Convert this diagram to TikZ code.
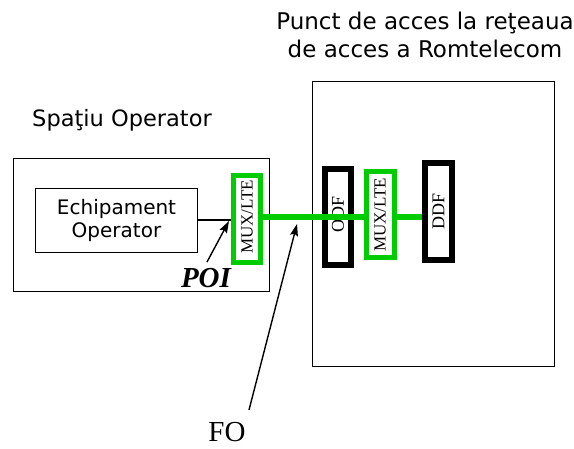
\documentclass[tikz,border=0pt]{standalone}
\usepackage{fontspec}
\setmainfont{Liberation Serif}
\newfontfamily\sansf{DejaVu Sans}
\usetikzlibrary{arrows.meta}
\definecolor{fgreen}{RGB}{0,204,0}
\begin{document}
\begin{tikzpicture}[x=1pt,y=-1pt,
  outerbox/.style={draw, line width=1.5pt, inner sep=0pt},
  greenbox/.style={draw=fgreen, line width=5pt, fill=white, inner sep=0pt},
  blackbox/.style={draw=black, line width=6.5pt, fill=white, inner sep=0pt},
  vlabel/.style={rotate=90, inner sep=0pt},
  gline/.style={draw=fgreen, line width=6pt},
  ptr/.style={draw, line width=1.4pt, -{Stealth[length=12pt,width=8pt,inset=2pt]}},
  sanstext/.style={font=\sansf\fontsize{22.5}{28}\selectfont, inner sep=0pt}]
\useasboundingbox (0,0) rectangle (574,449);
% outer boxes
\node[outerbox, minimum width=256pt, minimum height=133pt] (opbox) at (141.5,225) {};
\node[outerbox, minimum width=242pt, minimum height=285pt] (rtbox) at (433.5,224) {};
% titles
\node[sanstext, font=\sansf\fontsize{23}{28}\selectfont, align=center, anchor=north] (title) at (425,12) {Punct de acces la reţeaua\\de acces a Romtelecom};
\node[sanstext, anchor=base] (optitle) at (122,127) {Spaţiu Operator};
% equipment
\node[outerbox, line width=1.3pt, minimum width=162pt, minimum height=64pt, align=center,
      font=\sansf\fontsize{20}{23}\selectfont] (echip) at (116.5,220.5) {Echipament\\Operator};
% MUX left
\node[greenbox, minimum width=27pt, minimum height=87pt] (mux1) at (247,219) {};
\node[vlabel, font=\fontsize{17}{17}\selectfont] (mux1t) at (247,217) {MUX/LTE};
% ODF
\node[blackbox, minimum width=26pt, minimum height=96pt] (odf) at (338,217) {};
\node[vlabel, font=\fontsize{18}{18}\selectfont] (odft) at (338,214) {ODF};
% connector equipment - mux
\coordinate (ly) at (0,220);
\draw[line width=1.2pt] (echip.east |- ly) -- (mux1.west |- ly);
% green fibre line
\coordinate (gy) at (0,217);
\draw[gline] (mux1.east |- gy) -- (380,217);
% MUX right and DDF
\node[greenbox, minimum width=28pt, minimum height=86pt] (mux2) at (380,215) {};
\node[vlabel, font=\fontsize{17}{17}\selectfont] (mux2t) at (380,215) {MUX/LTE};
\node[blackbox, minimum width=27pt, minimum height=97pt] (ddf) at (438.5,211.5) {};
\node[vlabel, font=\fontsize{18}{18}\selectfont] (ddft) at (438.5,211) {DDF};
\draw[gline] (mux2.east |- gy) -- (ddf.west |- gy);
% POI
\node[inner sep=0pt, anchor=base, font=\bfseries\itshape\fontsize{29}{29}\selectfont] (poi) at (206,288) {POI};
\coordinate (poitail) at (207,262);
\coordinate (poihead) at (229,221);
\draw[ptr] (poitail) -- (poihead);
% FO
\node[inner sep=0pt, anchor=base, font=\fontsize{29}{29}\selectfont] (fo) at (227,442) {FO};
\coordinate (fotail) at (249,410);
\coordinate (fohead) at (297,224);
\draw[ptr] (fotail) -- (fohead);
\end{tikzpicture}
\end{document}
